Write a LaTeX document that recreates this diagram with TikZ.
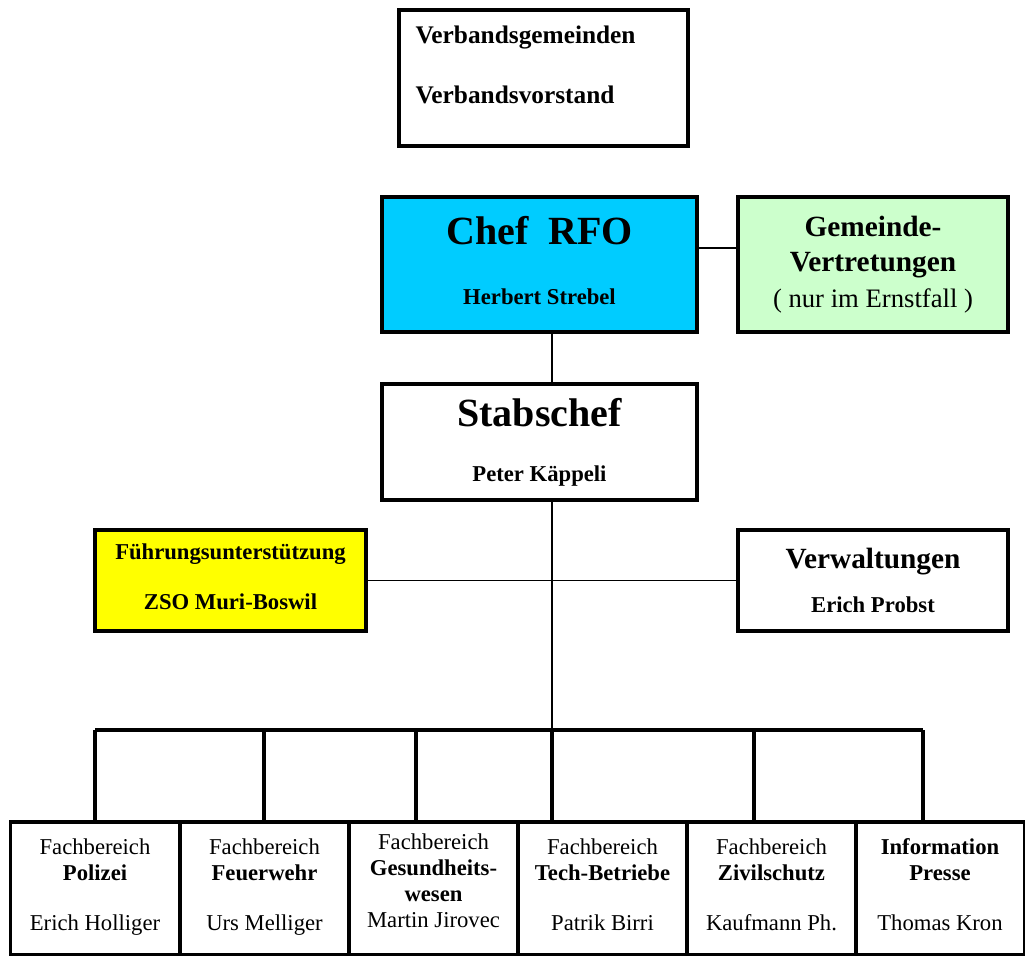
\documentclass[tikz,border=0pt]{standalone}
\usepackage{fontspec}
\setmainfont{Liberation Serif}
\definecolor{chefblue}{HTML}{00CCFF}
\definecolor{gemgreen}{HTML}{CCFFCC}
\definecolor{fuyellow}{HTML}{FFFF00}
\def\busy{730}
\def\spinex{552}

\begin{document}
\begin{tikzpicture}[x=.75pt,y=-.75pt,
    box/.style={draw, line width=2.4pt, inner sep=0pt, align=center,
      font=\fontsize{17}{20}\selectfont},
    fbox/.style={box, minimum width=126.75pt, minimum height=99.75pt,
      font=\fontsize{17}{19.5}\selectfont},
    thinline/.style={line width=.8pt},
    midline/.style={line width=1.5pt},
    busline/.style={line width=2.6pt}]
  \useasboundingbox (0,0) rectangle (1025,956);

  % top
  \node[box, minimum width=216.75pt, minimum height=102pt, text width=192pt,
    align=left, font=\fontsize{19}{22}\selectfont\bfseries] (verband) at (543.5,78)
    {Verbandsgemeinden\\[23pt]Verbandsvorstand\\[-2pt]\mbox{}};

  \node[box, fill=chefblue, minimum width=236.25pt, minimum height=101.25pt] (chef) at (539.5,264.5)
    {{\fontsize{30}{32}\selectfont\bfseries Chef\ \ RFO}\\[25pt]{\bfseries Herbert Strebel}\\[-14pt]};
  \node[box, fill=gemgreen, minimum width=202.5pt, minimum height=101.25pt,
    font=\fontsize{22}{26}\selectfont] (gem) at (873,264.5)
    {{\bfseries Gemeinde-}\\{\bfseries Vertretungen}\\[1pt]{\fontsize{20}{24}\selectfont( nur im Ernstfall )}};

  \node[box, minimum width=236.25pt, minimum height=87pt] (stab) at (539.5,442)
    {{\fontsize{30}{32}\selectfont\bfseries Stabschef}\\[21pt]{\bfseries Peter Käppeli}};

  \node[box, fill=fuyellow, minimum width=203.25pt, minimum height=75.75pt] (fu) at (230.5,580.5)
    {{\bfseries Führungsunterstützung}\\[18pt]{\bfseries ZSO Muri-Boswil}\\[-14pt]};
  \node[box, minimum width=202.5pt, minimum height=75.75pt] (verw) at (873,580.5)
    {{\fontsize{22}{24}\selectfont\bfseries Verwaltungen}\\[13pt]{\bfseries Erich Probst}};

  % links
  \coordinate (link) at (0,248);
  \coordinate (spine) at (\spinex,0);
  \coordinate (busL) at (95,\busy);
  \coordinate (busR) at (923,\busy);
  \draw[thinline] (chef.east |- link) -- (gem.west |- link);
  \draw[midline] (chef.south -| spine) -- (stab.north -| spine);
  \draw[midline] (stab.south -| spine) -- (spine |- busL);
  \draw[thinline] (fu.east) -- (verw.west);
  \draw[busline] (busL) -- (busR);

  % fachbereiche
  \foreach \i/\x/\d/\txt in {
      1/95/95/{Fachbereich\\\textbf{Polizei}\\[18pt]Erich Holliger\\[-13.5pt]},
      2/264.5/264/{Fachbereich\\\textbf{Feuerwehr}\\[18pt]Urs Melliger\\[-13.5pt]},
      3/433.5/416/{Fachbereich\\\textbf{Gesundheits-}\\\textbf{wesen}\\Martin Jirovec\\[-8pt]},
      4/602.5/552/{Fachbereich\\\textbf{Tech-Betriebe}\\[18pt]Patrik Birri\\[-13.5pt]},
      5/771.5/754/{Fachbereich\\\textbf{Zivilschutz}\\[18pt]Kaufmann Ph.\\[-13.5pt]},
      6/940/923/{\textbf{Information}\\\textbf{Presse}\\[18pt]Thomas Kron\\[-13.5pt]}} {
    \node[fbox] (fb\i) at (\x,888.5) {\txt};
    \coordinate (drop\i) at (\d,\busy);
    \draw[busline] (drop\i) -- (drop\i |- fb\i.north);
  }
\end{tikzpicture}
\end{document}
